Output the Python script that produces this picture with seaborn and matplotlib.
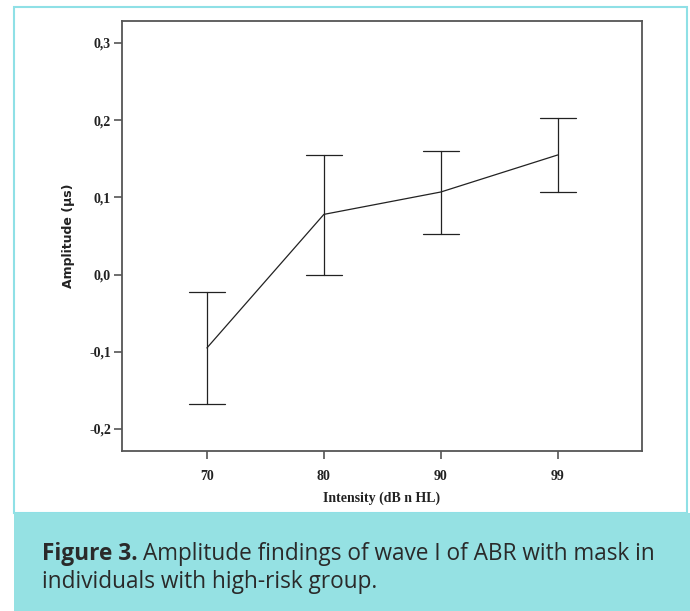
import matplotlib
matplotlib.use("Agg")
import matplotlib.pyplot as plt
import seaborn as sns
import pandas as pd
from matplotlib.patches import Rectangle
from matplotlib.ticker import FuncFormatter

# ---- data ----
intensity = ["70", "80", "90", "99"]
mean_amp = [-0.095, 0.078, 0.107, 0.155]
lower_ci = [-0.168, 0.000, 0.052, 0.107]
upper_ci = [-0.022, 0.155, 0.160, 0.203]
y_ticks = [-0.2, -0.1, 0.0, 0.1, 0.2, 0.3]

rows = []
for cat, lo, m, hi in zip(intensity, lower_ci, mean_amp, upper_ci):
    for v in (lo, m, hi):
        rows.append({"Intensity": cat, "Amplitude": v})
df = pd.DataFrame(rows)

sns.set_style("white")
W, H = 690, 611
fig = plt.figure(figsize=(W / 100, H / 100), dpi=100)

# outer frame and caption band
fig.patches.append(Rectangle((14 / W, 1 - 513 / H), (687 - 14) / W, (513 - 7) / H,
                             transform=fig.transFigure, fill=False,
                             edgecolor="#8fe0e6", linewidth=1.5))
fig.patches.append(Rectangle((14 / W, 0), (690 - 14) / W, (H - 513) / H,
                             transform=fig.transFigure, facecolor="#95e1e3",
                             edgecolor="none"))

ax = fig.add_axes([122 / W, 1 - 451 / H, (642 - 122) / W, (451 - 21) / H])

sns.pointplot(data=df, x="Intensity", y="Amplitude", order=intensity,
              estimator="median", errorbar=("pi", 100), color="#222222",
              marker="", linewidth=0.9, capsize=0.31,
              err_kws={"linewidth": 0.9}, ax=ax)

ax.set_xlim(-0.726, 3.72)
ax.set_ylim(-0.2285, 0.3285)
ax.set_yticks(y_ticks)
ax.yaxis.set_major_formatter(FuncFormatter(lambda v, p: f"{v:.1f}".replace(".", ",").replace("-0,0", "0,0")))

for s in ax.spines.values():
    s.set_color("#555555")
    s.set_linewidth(1.3)
    s.set_visible(True)

ax.tick_params(axis="both", which="both", direction="out", length=6, width=1.2,
               color="#555555", left=True, bottom=True)
for lab in ax.get_xticklabels() + ax.get_yticklabels():
    lab.set_fontfamily("Liberation Serif")
    lab.set_fontweight("bold")
    lab.set_fontsize(10)
    lab.set_color("#222222")
ax.tick_params(axis="x", pad=8)
ax.tick_params(axis="y", pad=2)

ax.set_xlabel("Intensity (dB n HL)", fontfamily="Liberation Serif", fontweight="bold",
              fontsize=10, color="#222222", labelpad=6)
ax.set_ylabel("Amplitude (µs)", fontfamily="DejaVu Sans", fontweight="bold",
              fontsize=9, color="#222222", labelpad=10)

# caption
fs = 16.3
t1 = fig.text(42 / W, 1 - 560 / H, "Figure 3.", fontfamily="Open Sans", fontweight="bold",
              fontsize=fs, color="#2a2a2a", va="baseline", ha="left")
fig.canvas.draw()
bb = t1.get_window_extent()
x_after = (bb.x1 + 5) / W
fig.text(x_after, 1 - 560 / H, "Amplitude findings of wave I of ABR with mask in",
         fontfamily="Open Sans", fontsize=fs, color="#2a2a2a", va="baseline", ha="left")
fig.text(42 / W, 1 - 588 / H, "individuals with high-risk group.",
         fontfamily="Open Sans", fontsize=fs, color="#2a2a2a", va="baseline", ha="left")

fig.savefig("out.png", dpi=100)
